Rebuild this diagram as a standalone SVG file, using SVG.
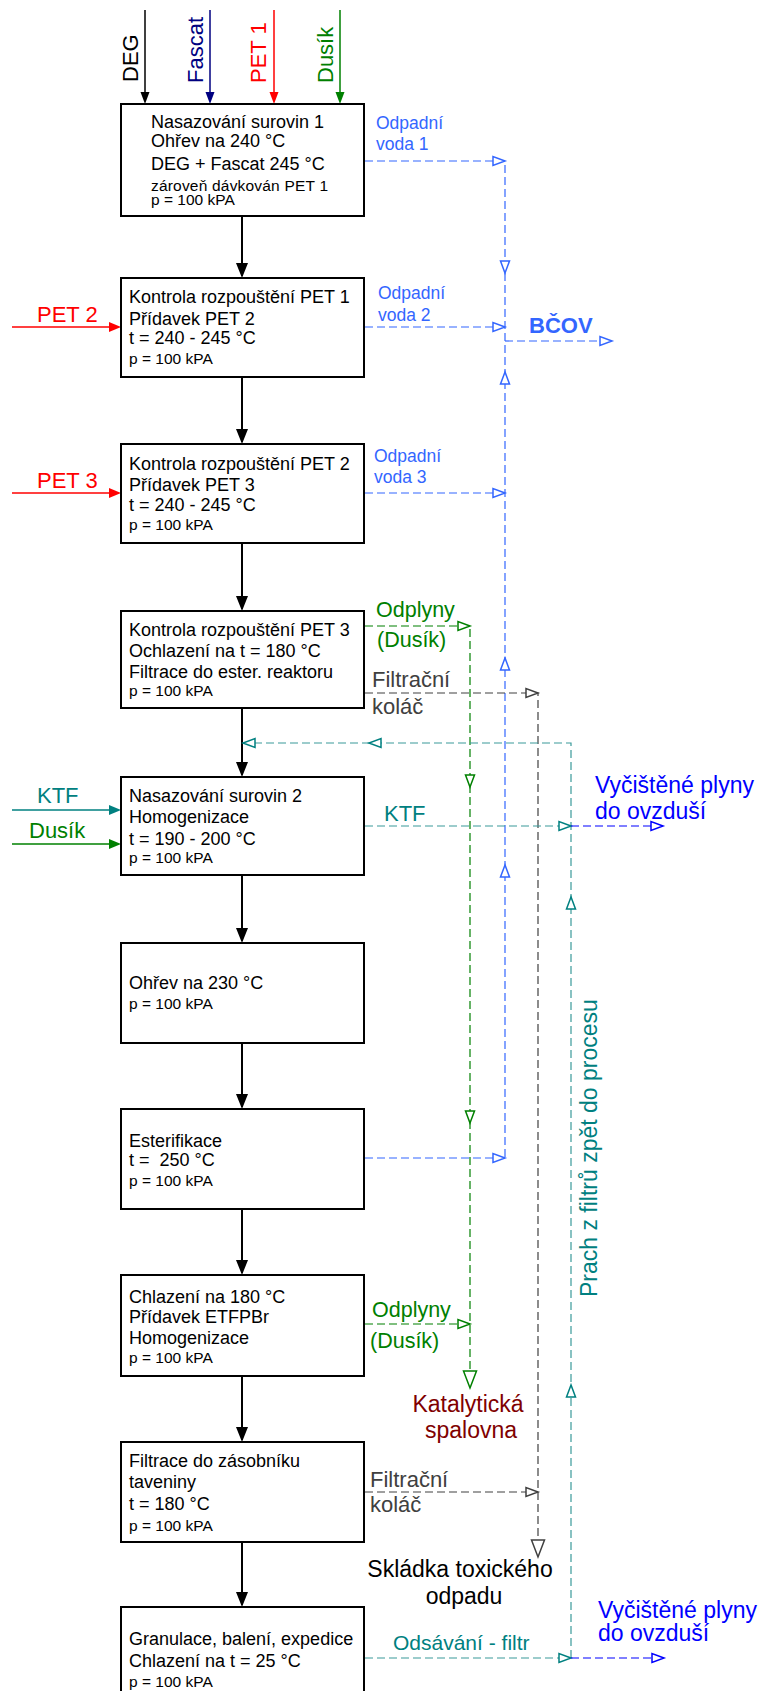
<svg xmlns="http://www.w3.org/2000/svg" xmlns:xlink="http://www.w3.org/1999/xlink" width="759" height="1691" viewBox="0 0 759 1691">
<style>
text{font-family:"Liberation Sans",Arial,sans-serif;}
.box{fill:#fff;stroke:#000;stroke-width:2;}
.bt{font-size:18px;fill:#000;}
.bs{font-size:15.5px;fill:#000;}
.main{stroke:#000;stroke-width:2;fill:none;}
.d{fill:none;stroke-width:1.2;stroke-dasharray:8 4;}
.blue{stroke:#3366ff;color:#3366ff;}
.green{stroke:#008000;color:#008000;}
.grey{stroke:#404040;color:#404040;}
.teal{stroke:#3a9a9a;color:#008080;}
.pblue{stroke:#0000ff;color:#0000ff;}
.oa{fill:#fff;stroke:currentColor;stroke-width:1.5;}
.lw{font-size:17.5px;fill:#3366ff;}
.lg{font-size:21.5px;fill:#008000;}
.lk{font-size:22px;fill:#404040;}
.lt{font-size:22px;fill:#008080;}
.lb{font-size:23px;fill:#0000ff;}
.big{font-size:22px;}
</style>
<defs>
<path id="ah" d="M0,0 L-12,-4.5 L-12,4.5 Z"/>
<path id="ahL" d="M0,0 L-17,-6.5 L-17,6.5 Z"/>
<path id="fh" d="M0,0 L-15,-6 L-15,6 Z"/>
<path id="fs" d="M0,0 L-12,-5 L-12,5 Z"/>
</defs>

<g id="connectors">
<g class="main">
<path d="M242,216 V276"/>
<path d="M242,377 V442"/>
<path d="M242,543 V609"/>
<path d="M242,708 V775"/>
<path d="M242,875 V941"/>
<path d="M242,1043 V1107"/>
<path d="M242,1209 V1273"/>
<path d="M242,1376 V1440"/>
<path d="M242,1542 V1605"/>
</g>
<g fill="#000">
<use xlink:href="#fh" transform="translate(242,278) rotate(90)"/>
<use xlink:href="#fh" transform="translate(242,444) rotate(90)"/>
<use xlink:href="#fh" transform="translate(242,611) rotate(90)"/>
<use xlink:href="#fh" transform="translate(242,777) rotate(90)"/>
<use xlink:href="#fh" transform="translate(242,943) rotate(90)"/>
<use xlink:href="#fh" transform="translate(242,1109) rotate(90)"/>
<use xlink:href="#fh" transform="translate(242,1275) rotate(90)"/>
<use xlink:href="#fh" transform="translate(242,1442) rotate(90)"/>
<use xlink:href="#fh" transform="translate(242,1607) rotate(90)"/>
</g>
<path d="M145,10 V95" stroke="#000" stroke-width="1.5"/>
<use xlink:href="#fs" transform="translate(145,104) rotate(90) scale(1,0.9)" fill="#000"/>
<path d="M210,10 V95" stroke="#000080" stroke-width="1.5"/>
<use xlink:href="#fs" transform="translate(210,104) rotate(90) scale(1,0.9)" fill="#000080"/>
<path d="M274,10 V95" stroke="#ff0000" stroke-width="1.5"/>
<use xlink:href="#fs" transform="translate(274,104) rotate(90) scale(1,0.9)" fill="#ff0000"/>
<path d="M340,10 V95" stroke="#008000" stroke-width="1.5"/>
<use xlink:href="#fs" transform="translate(340,104) rotate(90) scale(1,0.9)" fill="#008000"/>
<path d="M12,327 H112" stroke="#ff0000" stroke-width="1.5"/>
<use xlink:href="#fs" transform="translate(121,327)" fill="#ff0000"/>
<path d="M12,493 H112" stroke="#ff0000" stroke-width="1.5"/>
<use xlink:href="#fs" transform="translate(121,493)" fill="#ff0000"/>
<path d="M12,810 H112" stroke="#008080" stroke-width="1.5"/>
<use xlink:href="#fs" transform="translate(121,810)" fill="#008080"/>
<path d="M12,844 H112" stroke="#008000" stroke-width="1.5"/>
<use xlink:href="#fs" transform="translate(121,844)" fill="#008000"/>

<g class="d blue">
<path d="M365,161 H505 V1158"/>
<path d="M365,327 H505"/>
<path d="M365,493 H505"/>
<path d="M365,1158 H505"/>
<path d="M505,341 H610"/>
</g>
<g class="oa blue">
<use xlink:href="#ah" transform="translate(505,161)"/>
<use xlink:href="#ah" transform="translate(505,327)"/>
<use xlink:href="#ah" transform="translate(505,493)"/>
<use xlink:href="#ah" transform="translate(505,1158)"/>
<use xlink:href="#ah" transform="translate(505,273) rotate(90)"/>
<use xlink:href="#ah" transform="translate(505,372) rotate(-90)"/>
<use xlink:href="#ah" transform="translate(505,658) rotate(-90)"/>
<use xlink:href="#ah" transform="translate(505,865) rotate(-90)"/>
<use xlink:href="#ah" transform="translate(612,341)"/>
</g>

<g class="d green">
<path d="M365,626 H470 V1372"/>
<path d="M365,1324 H470"/>
</g>
<g class="oa green">
<use xlink:href="#ah" transform="translate(470,626)"/>
<use xlink:href="#ah" transform="translate(470,1324)"/>
<use xlink:href="#ah" transform="translate(470,787) rotate(90)"/>
<use xlink:href="#ah" transform="translate(470,1123) rotate(90)"/>
<use xlink:href="#ahL" transform="translate(470,1388) rotate(90)"/>
</g>

<g class="d grey">
<path d="M365,693 H538 V1541"/>
<path d="M365,1492 H538"/>
</g>
<g class="oa grey">
<use xlink:href="#ah" transform="translate(538,693)"/>
<use xlink:href="#ah" transform="translate(538,1492)"/>
<use xlink:href="#ahL" transform="translate(538,1557) rotate(90)"/>
</g>

<g class="d teal">
<path d="M571,1658 V743 H244"/>
<path d="M365,826 H571"/>
<path d="M365,1658 H571"/>
</g>
<g class="oa teal">
<use xlink:href="#ah" transform="translate(369,743) rotate(180)"/>
<use xlink:href="#ah" transform="translate(243,743) rotate(180)"/>
<use xlink:href="#ah" transform="translate(571,897) rotate(-90)"/>
<use xlink:href="#ah" transform="translate(571,1385) rotate(-90)"/>
<use xlink:href="#ah" transform="translate(571,826)"/>
<use xlink:href="#ah" transform="translate(571,1658)"/>
</g>

<g class="d pblue">
<path d="M571,826 H661"/>
<path d="M571,1658 H662"/>
</g>
<g class="oa pblue">
<use xlink:href="#ah" transform="translate(663,826)"/>
<use xlink:href="#ah" transform="translate(664,1658)"/>
</g>
</g>

<g id="inputs">
<text class="big" transform="translate(138,82) rotate(-90)" fill="#000">DEG</text>
<text class="big" transform="translate(203,83) rotate(-90)" fill="#000080">Fascat</text>
<text class="big" transform="translate(266,83) rotate(-90)" fill="#ff0000">PET 1</text>
<text class="big" transform="translate(333,83) rotate(-90)" fill="#008000">Dusík</text>
<text class="big" x="37" y="322" fill="#ff0000">PET 2</text>
<text class="big" x="37" y="488" fill="#ff0000">PET 3</text>
<text class="big" x="37" y="803" fill="#008080">KTF</text>
<text class="big" x="29" y="838" fill="#008000">Dusík</text>
</g>

<g id="n1">
<rect class="box" x="121" y="104" width="243" height="112"/>
<text class="bt" x="151" y="128">Nasazování surovin 1</text>
<text class="bt" x="151" y="147">Ohřev na 240 °C</text>
<text class="bt" x="151" y="170">DEG + Fascat 245 °C</text>
<text class="bs" x="151" y="190.5" textLength="177" lengthAdjust="spacing">zároveň dávkován PET 1</text>
<text class="bs" x="151" y="205">p = 100 kPA</text>
</g>
<g id="n2">
<rect class="box" x="121" y="278" width="243" height="99"/>
<text class="bt" x="129" y="303">Kontrola rozpouštění PET 1</text>
<text class="bt" x="129" y="325">Přídavek PET 2</text>
<text class="bt" x="129" y="344">t = 240 - 245 °C</text>
<text class="bs" x="129" y="364">p = 100 kPA</text>
</g>
<g id="n3">
<rect class="box" x="121" y="444" width="243" height="99"/>
<text class="bt" x="129" y="470">Kontrola rozpouštění PET 2</text>
<text class="bt" x="129" y="491">Přídavek PET 3</text>
<text class="bt" x="129" y="511">t = 240 - 245 °C</text>
<text class="bs" x="129" y="530">p = 100 kPA</text>
</g>
<g id="n4">
<rect class="box" x="121" y="611" width="243" height="97"/>
<text class="bt" x="129" y="636">Kontrola rozpouštění PET 3</text>
<text class="bt" x="129" y="657">Ochlazení na t = 180 °C</text>
<text class="bt" x="129" y="678">Filtrace do ester. reaktoru</text>
<text class="bs" x="129" y="696">p = 100 kPA</text>
</g>
<g id="n5">
<rect class="box" x="121" y="777" width="243" height="98"/>
<text class="bt" x="129" y="802">Nasazování surovin 2</text>
<text class="bt" x="129" y="823">Homogenizace</text>
<text class="bt" x="129" y="845">t = 190 - 200 °C</text>
<text class="bs" x="129" y="863">p = 100 kPA</text>
</g>
<g id="n6">
<rect class="box" x="121" y="943" width="243" height="100"/>
<text class="bt" x="129" y="989">Ohřev na 230 °C</text>
<text class="bs" x="129" y="1009">p = 100 kPA</text>
</g>
<g id="n7">
<rect class="box" x="121" y="1109" width="243" height="100"/>
<text class="bt" x="129" y="1147">Esterifikace</text>
<text class="bt" x="129" y="1166">t = &#160;250 °C</text>
<text class="bs" x="129" y="1186">p = 100 kPA</text>
</g>
<g id="n8">
<rect class="box" x="121" y="1275" width="243" height="101"/>
<text class="bt" x="129" y="1303">Chlazení na 180 °C</text>
<text class="bt" x="129" y="1323">Přídavek ETFPBr</text>
<text class="bt" x="129" y="1344">Homogenizace</text>
<text class="bs" x="129" y="1363">p = 100 kPA</text>
</g>
<g id="n9">
<rect class="box" x="121" y="1442" width="243" height="100"/>
<text class="bt" x="129" y="1467">Filtrace do zásobníku</text>
<text class="bt" x="129" y="1488">taveniny</text>
<text class="bt" x="129" y="1510">t = 180 °C</text>
<text class="bs" x="129" y="1531">p = 100 kPA</text>
</g>
<g id="n10">
<rect class="box" x="121" y="1607" width="243" height="110"/>
<text class="bt" x="129" y="1645">Granulace, balení, expedice</text>
<text class="bt" x="129" y="1667">Chlazení na t = 25 °C</text>
<text class="bs" x="129" y="1687">p = 100 kPA</text>
</g>

<g id="labels">
<text class="lw" x="376" y="129">Odpadní</text>
<text class="lw" x="376" y="150">voda 1</text>
<text class="lw" x="378" y="299">Odpadní</text>
<text class="lw" x="378" y="321">voda 2</text>
<text class="lw" x="374" y="462">Odpadní</text>
<text class="lw" x="374" y="483">voda 3</text>
<text x="529" y="333" font-size="22" font-weight="bold" fill="#3366ff">BČOV</text>
<text class="lg" x="376" y="617">Odplyny</text>
<text class="lg" x="377" y="647">(Dusík)</text>
<text class="lk" x="372" y="687">Filtrační</text>
<text class="lk" x="372" y="714">koláč</text>
<text class="lt" x="384" y="821">KTF</text>
<text class="lb" x="595" y="793">Vyčištěné plyny</text>
<text class="lb" x="595" y="819">do ovzduší</text>
<text transform="translate(597,1297) rotate(-90)" font-size="23" fill="#008080">Prach z filtrů zpět do procesu</text>
<text class="lg" x="372" y="1317">Odplyny</text>
<text class="lg" x="370" y="1348">(Dusík)</text>
<text x="468" y="1412" font-size="23" fill="#800000" text-anchor="middle">Katalytická</text>
<text x="471" y="1438" font-size="23" fill="#800000" text-anchor="middle">spalovna</text>
<text class="lk" x="370" y="1487">Filtrační</text>
<text class="lk" x="370" y="1512">koláč</text>
<text x="460" y="1577" font-size="23" fill="#000" text-anchor="middle">Skládka toxického</text>
<text x="464" y="1604" font-size="23" fill="#000" text-anchor="middle">odpadu</text>
<text x="393" y="1650" font-size="21" fill="#008080">Odsávání - filtr</text>
<text class="lb" x="598" y="1618">Vyčištěné plyny</text>
<text class="lb" x="598" y="1641">do ovzduší</text>
</g>
</svg>
